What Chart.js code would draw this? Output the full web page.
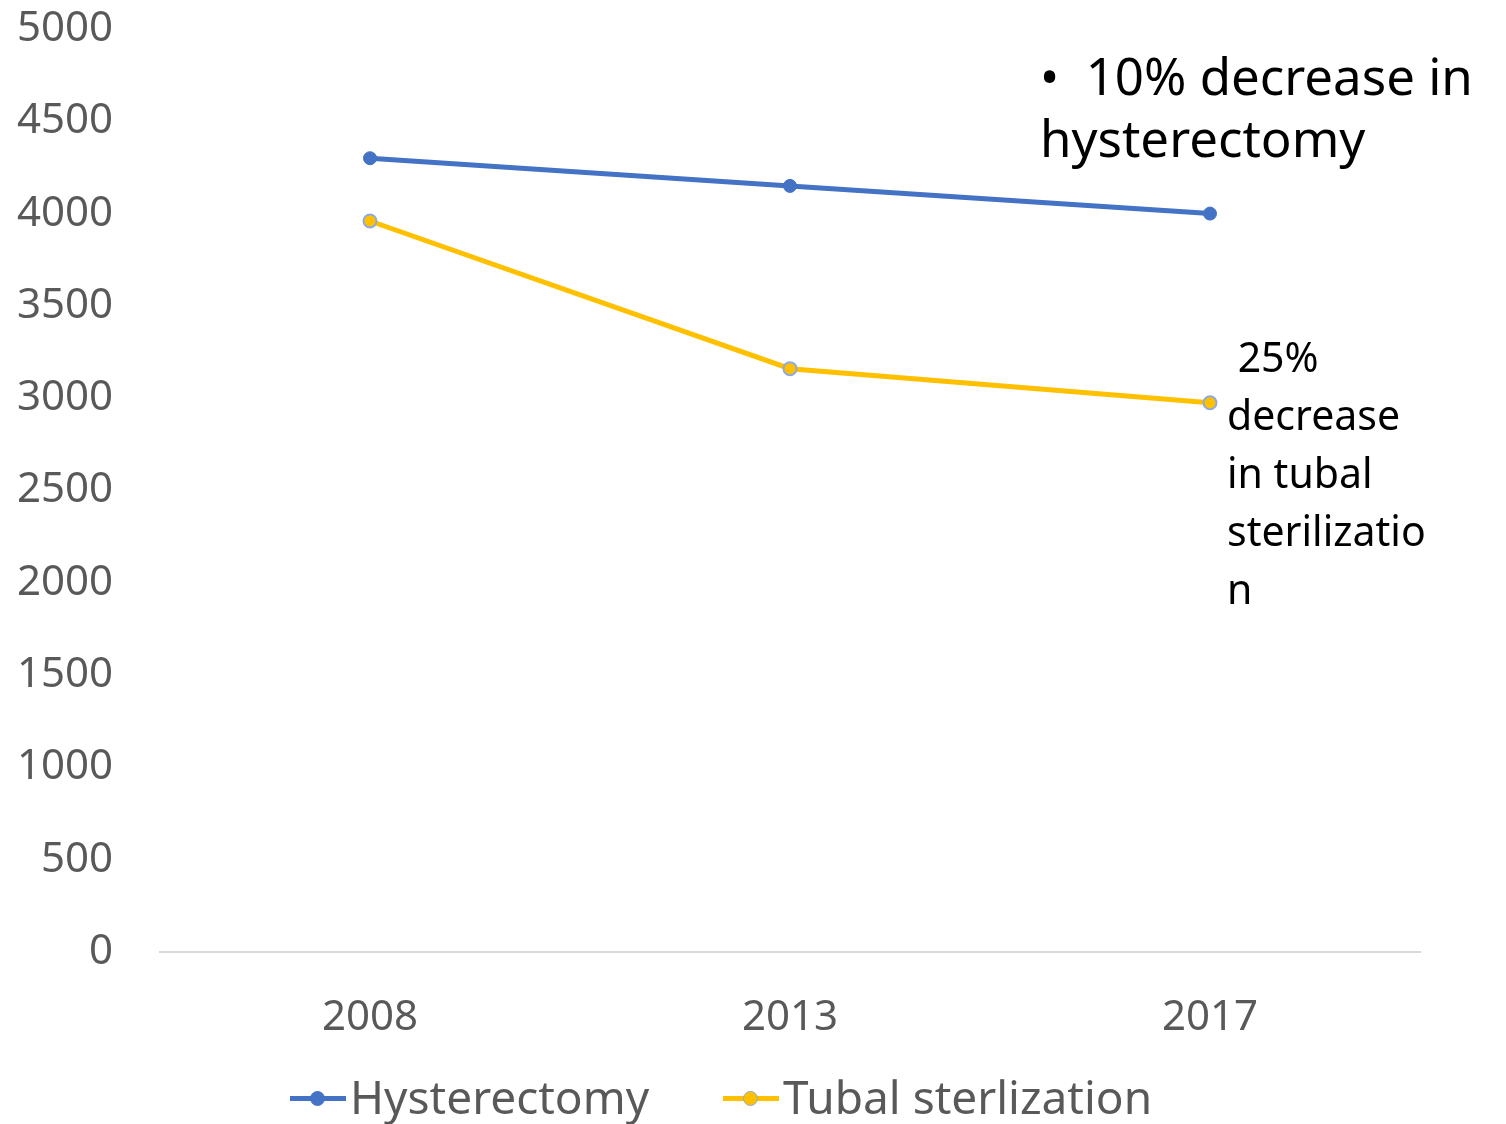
<!DOCTYPE html>
<html>
<head>
<meta charset="utf-8">
<script src="https://cdn.jsdelivr.net/npm/chart.js@4"></script>
<style>
  body { margin: 0; background: #fff; }
  #wrap { position: relative; width: 1506px; height: 1124px; font-family: "Noto Sans", sans-serif; }
  .note { position: absolute; color: #000; white-space: pre; }
  .leg { position: absolute; top: 1069px; height: 54px; display: flex; align-items: center; color: #595959; font-size: 46px; }
  .mk { position: relative; width: 56px; height: 54px; margin-right: 4px; }
  .mk .ln { position: absolute; left: 0; right: 0; top: 27px; height: 5px; }
  .mk .dot { position: absolute; left: 20px; top: 22px; width: 13px; height: 13px; border-radius: 50%; }
</style>
</head>
<body>
<div id="wrap">
  <canvas id="myChart" width="1506" height="1124"></canvas>

  <div class="note" style="left:1040px; top:44px; font-size:51px; line-height:62px;">•  10% decrease in
hysterectomy</div>
  <div class="note" style="left:1227px; top:327px; font-size:41px; line-height:58px;"> 25%
decrease
in tubal
sterilizatio
n</div>

  <div class="leg" style="left:290px;">
    <div class="mk"><div class="ln" style="background:#4472C4"></div><div class="dot" style="background:#4472C4;border:1px solid #4472C4;"></div></div>
    <span>Hysterectomy</span>
  </div>
  <div class="leg" style="left:723px;">
    <div class="mk"><div class="ln" style="background:#FFC000"></div><div class="dot" style="background:#FFC000;border:1px solid #8FAADC;"></div></div>
    <span>Tubal sterlization</span>
  </div>
</div>

<script>
  // data
  var years = ['2008', '2013', '2017'];
  var hysterectomy = [4300, 4150, 4000];
  var tubal = [3960, 3160, 2975];
  var yTicks = [0, 500, 1000, 1500, 2000, 2500, 3000, 3500, 4000, 4500, 5000];

  var ctx = document.getElementById('myChart').getContext('2d');
  var chart = new Chart(ctx, {
    type: 'line',
    data: {
      labels: years,
      datasets: [{
        label: 'Hysterectomy',
        data: hysterectomy,
        borderColor: '#4472C4',
        backgroundColor: '#4472C4',
        borderWidth: 5,
        pointRadius: 6.5,
        pointBorderWidth: 1,
        pointBorderColor: '#4472C4',
        pointBackgroundColor: '#4472C4',
        tension: 0
      }, {
        label: 'Tubal sterlization',
        data: tubal,
        borderColor: '#FFC000',
        backgroundColor: '#FFC000',
        borderWidth: 5,
        pointRadius: 6.5,
        pointBorderWidth: 2,
        pointBorderColor: '#8FAADC',
        pointBackgroundColor: '#FFC000',
        tension: 0
      }]
    },
    options: {
      responsive: false,
      animation: false,
      devicePixelRatio: 1,
      layout: { padding: { top: 29, right: 86, left: 0, bottom: 0 } },
      plugins: {
        legend: { display: false },
        tooltip: { enabled: false }
      },
      scales: {
        x: {
          offset: true,
          grid: { display: false },
          border: { display: true, color: '#D9D9D9', width: 2 },
          ticks: {
            color: '#595959',
            font: { family: 'Noto Sans', size: 42 },
            padding: 33,
            maxRotation: 0
          },
          afterFit: function (s) { s.height = 172; s.paddingLeft = 0; s.paddingRight = 0; }
        },
        y: {
          min: 0,
          max: 5000,
          afterBuildTicks: function (s) { s.ticks = yTicks.map(function (v) { return { value: v }; }); },
          grid: { display: false, drawTicks: false },
          border: { display: false },
          ticks: {
            color: '#595959',
            font: { family: 'Noto Sans', size: 42 },
            padding: 47,
            callback: function (v) { return String(v); }
          },
          afterFit: function (s) { s.width = 160; s.paddingTop = 0; s.paddingBottom = 0; }
        }
      }
    }
  });
</script>
</body>
</html>
